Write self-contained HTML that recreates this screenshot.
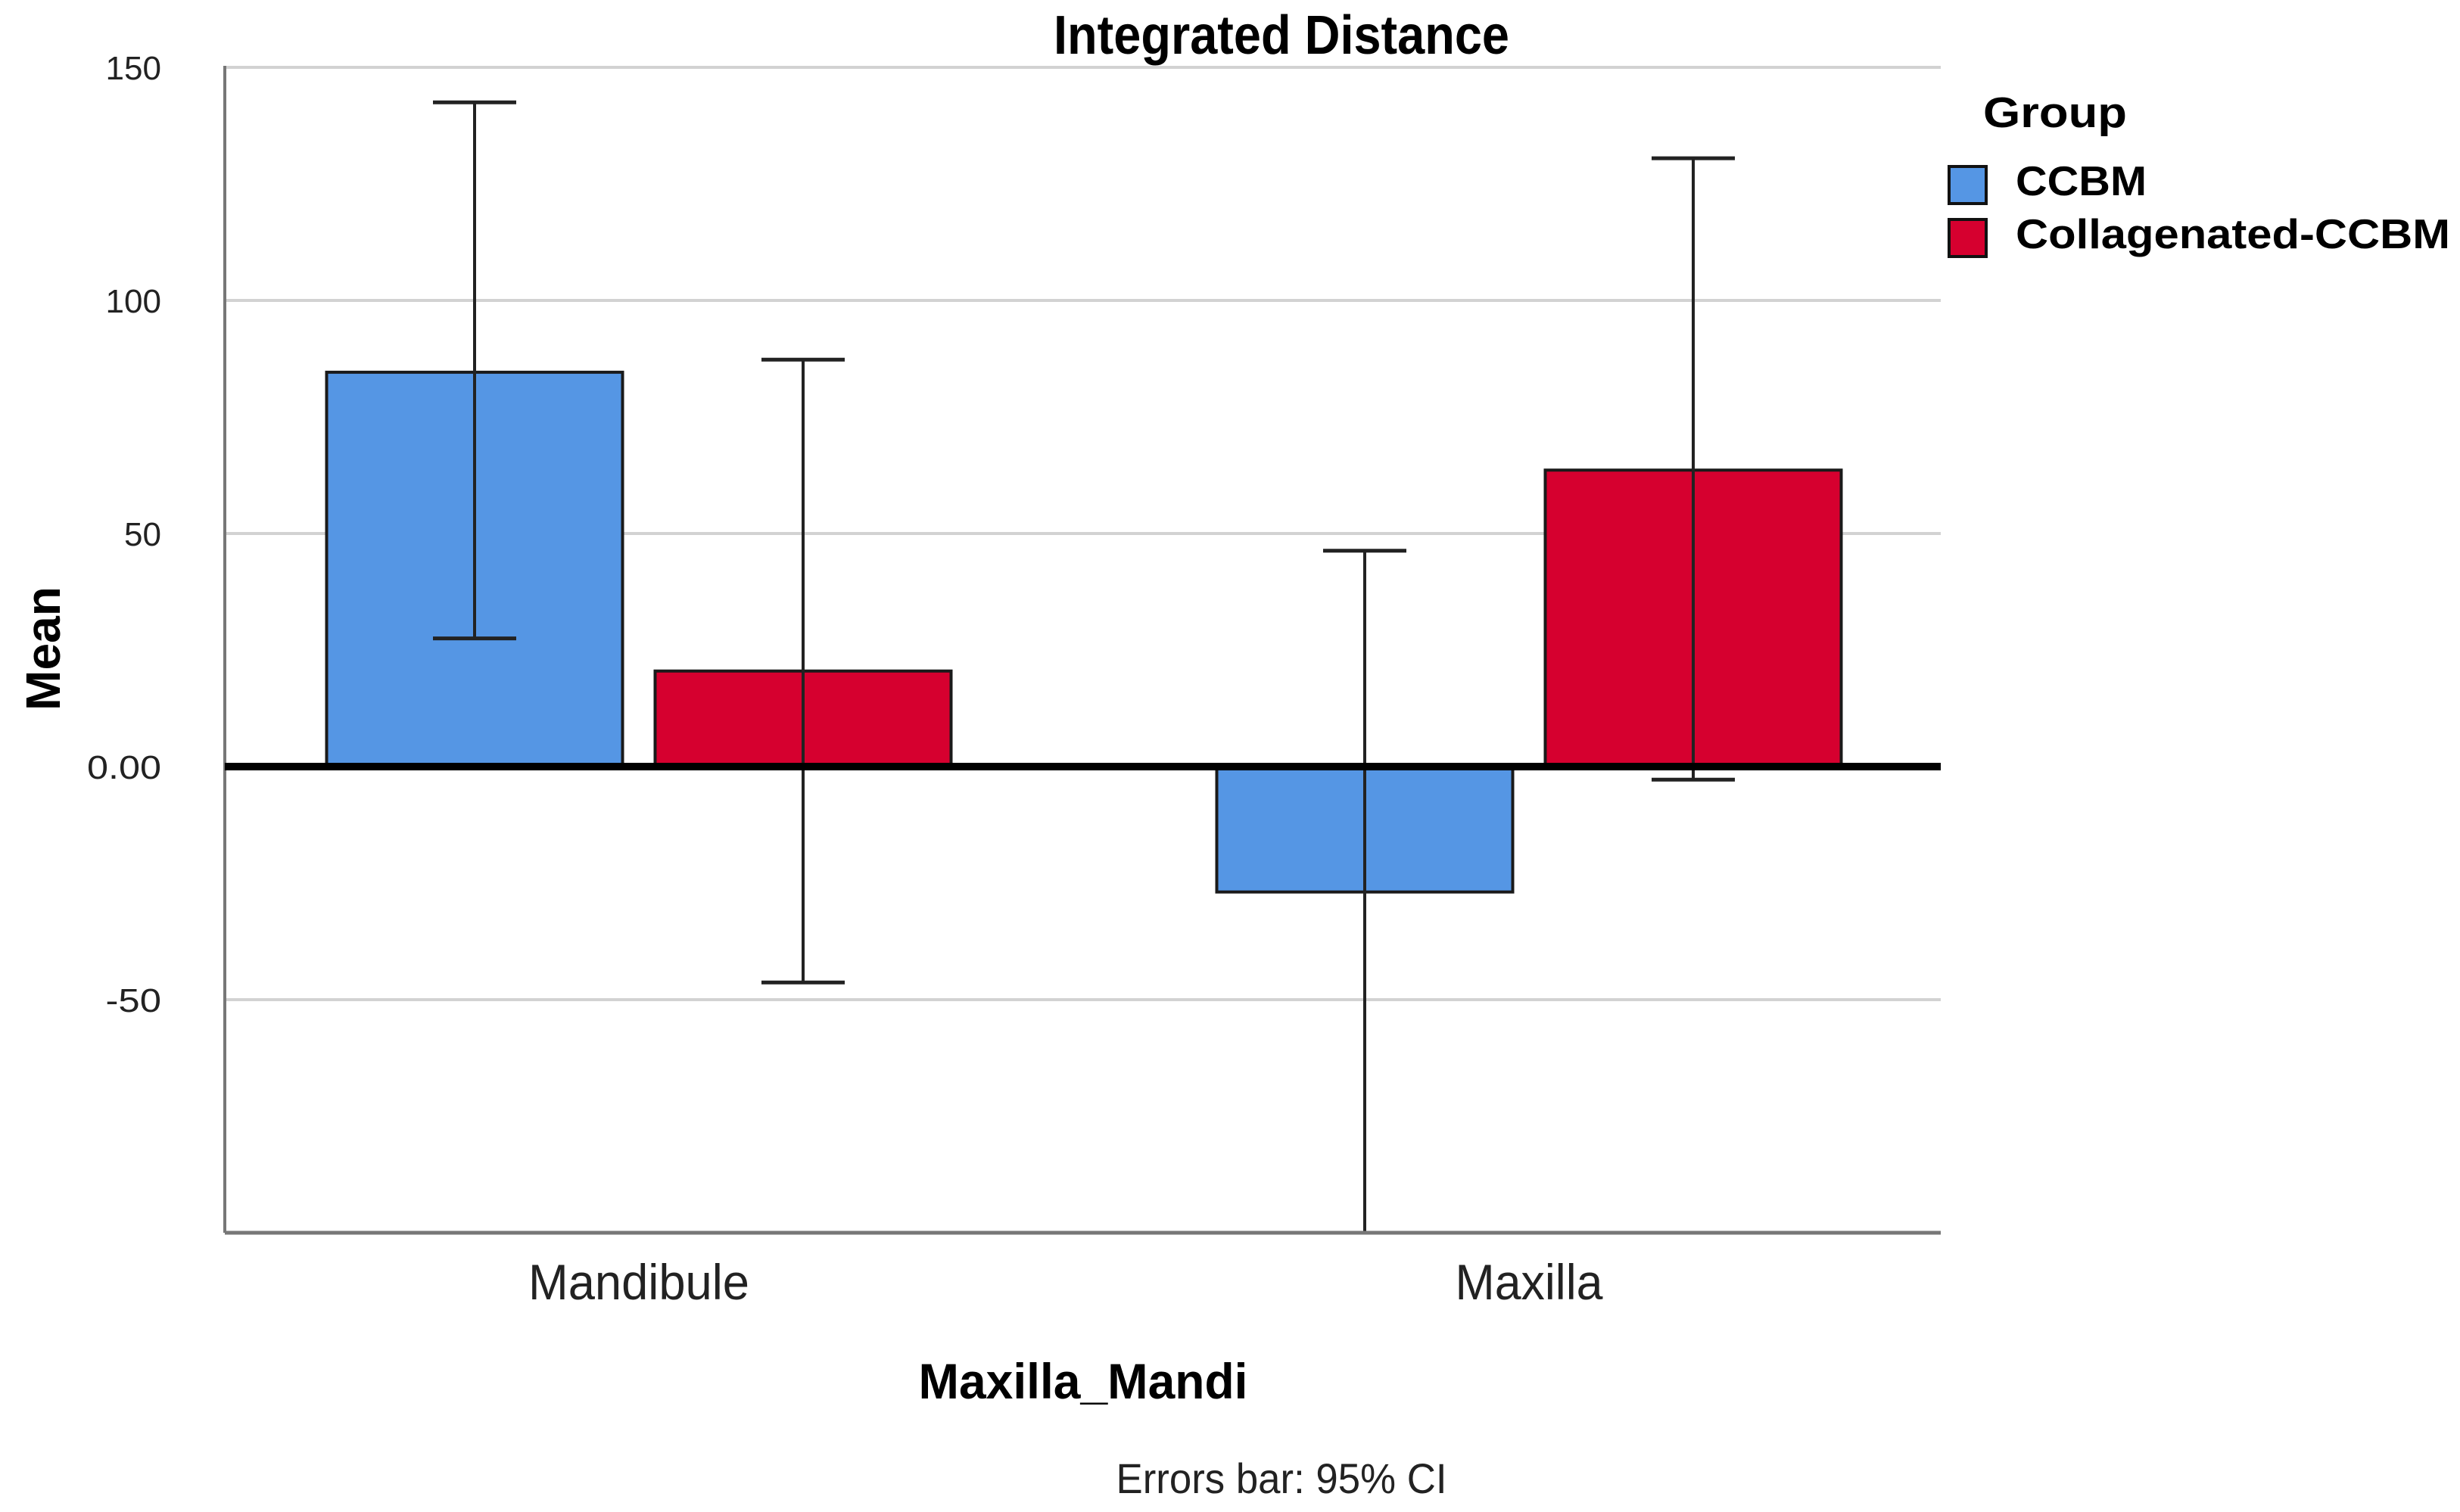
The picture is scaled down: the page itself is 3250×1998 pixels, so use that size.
<!DOCTYPE html>
<html><head><meta charset="utf-8"><title>Integrated Distance</title>
<style>html,body{margin:0;padding:0;background:#fff;}svg{display:block;}</style></head>
<body>
<svg id="chart" width="3250" height="1998" viewBox="0 0 3250 1998" xmlns="http://www.w3.org/2000/svg" font-family="'Liberation Sans', Arial, sans-serif">
<rect width="3250" height="1998" fill="#fff"/>
<text x="1693" y="71" text-anchor="middle" font-size="72" font-weight="bold" textLength="602" lengthAdjust="spacingAndGlyphs">Integrated Distance</text>
<g id="grid"></g>
<g id="bars"></g>
<g id="errs"></g>
<g id="axes"></g>
<text transform="translate(79,857) rotate(-90)" text-anchor="middle" font-size="64" font-weight="bold" textLength="164" lengthAdjust="spacingAndGlyphs">Mean</text>
<text x="1431" y="1848" text-anchor="middle" font-size="66" font-weight="bold" textLength="435" lengthAdjust="spacingAndGlyphs">Maxilla_Mandi</text>
<text x="1693" y="1973" text-anchor="middle" font-size="56" fill="#222" textLength="437" lengthAdjust="spacingAndGlyphs">Errors bar: 95% CI</text>
<g>
<text x="2620" y="168" font-size="57" font-weight="bold" textLength="190" lengthAdjust="spacingAndGlyphs">Group</text>
<g>
<rect x="2575" y="220" width="49" height="49" fill="#5596e4" stroke="#111" stroke-width="4"/>
<text x="2663" y="258" font-size="55" font-weight="bold" textLength="173" lengthAdjust="spacingAndGlyphs">CCBM</text>
</g>
<g>
<rect x="2575" y="290" width="49" height="49" fill="#d6002f" stroke="#111" stroke-width="4"/>
<text x="2663" y="328" font-size="55" font-weight="bold" textLength="574" lengthAdjust="spacingAndGlyphs">Collagenated-CCBM</text>
</g>
</g>
</svg>
<script>
const categories = ["Mandibule", "Maxilla"];
const seriesNames = ["CCBM", "Collagenated-CCBM"];
const ccbmMeans = [84.6, -26.9];
const collagenMeans = [20.5, 63.6];
const ccbmLow = [27.5, -100];
const ccbmHigh = [142.5, 46.3];
const collagenLow = [-46.3, -2.8];
const collagenHigh = [87.3, 130.5];
const yTicks = [150, 100, 50, 0, -50];
const yTickLabels = ["150", "100", "50", "0.00", "-50"];

const NS = "http://www.w3.org/2000/svg";
const yMin = -100, yMax = 150, yTop = 89, yBot = 1629;
function y(v){ return yBot - (v - yMin) / (yMax - yMin) * (yBot - yTop); }
const plotL = 297, plotR = 2564, bandStart = 256, band = 1176, barW = 391, barGap = 43;
function catCenter(i){ return bandStart + (i + 0.5) * band; }
function barX(i, s){ return catCenter(i) - barGap/2 - barW + s * (barW + barGap); }
function mk(tag, attrs, parent){ const e = document.createElementNS(NS, tag); for (const k in attrs) e.setAttribute(k, attrs[k]); parent.appendChild(e); return e; }

const grid = document.getElementById("grid");
const axes = document.getElementById("axes");
yTicks.forEach((t, i) => {
  if (t !== 0) {
    const g = mk("line", {x1: plotL, x2: plotR, y1: y(t), y2: y(t), stroke: "#d2d2d2", "stroke-width": 4}, grid);
    
    
  }
  const lbl = mk("text", {x: 213, y: y(t) + 16, "text-anchor": "end", "font-size": 44, fill: "#222", textLength: yTickLabels[i].length * 24.5, lengthAdjust: "spacingAndGlyphs"}, axes);
  lbl.textContent = yTickLabels[i];
  
  
});

const bars = document.getElementById("bars");
const errs = document.getElementById("errs");
const means = [ccbmMeans, collagenMeans];
const lows = [ccbmLow, collagenLow];
const highs = [ccbmHigh, collagenHigh];
const colors = ["#5596e4", "#d6002f"];
categories.forEach((c, i) => {
  for (let s = 0; s < 2; s++) {
    const v = means[s][i];
    const x = barX(i, s);
    const r = mk("rect", {x: x, y: Math.min(y(v), y(0)), width: barW, height: Math.abs(y(v) - y(0)), fill: colors[s], stroke: "#1a1a1a", "stroke-width": 4}, bars);
    
    
    const cx = x + barW / 2;
    const g = mk("g", {stroke: "#222", "stroke-width": 4}, errs);
    
    
    mk("line", {x1: cx, x2: cx, y1: y(highs[s][i]), y2: y(lows[s][i])}, g);
    mk("line", {x1: cx - 55, x2: cx + 55, y1: y(highs[s][i]), y2: y(highs[s][i]), "stroke-width": 5}, g);
    mk("line", {x1: cx - 55, x2: cx + 55, y1: y(lows[s][i]), y2: y(lows[s][i]), "stroke-width": 5}, g);
  }
  const cl = mk("text", {x: catCenter(i) + (i === 0 ? 0 : 0), y: 1717, "text-anchor": "middle", "font-size": 66, fill: "#222", textLength: i === 0 ? 292 : 195, lengthAdjust: "spacingAndGlyphs"}, axes);
  cl.textContent = c;
  
  
});

const ya = mk("line", {x1: plotL, x2: plotL, y1: yTop - 2, y2: yBot, stroke: "#777", "stroke-width": 4}, axes);


const xa = mk("line", {x1: plotL, x2: plotR, y1: yBot, y2: yBot, stroke: "#777", "stroke-width": 5}, axes);


const zl = mk("line", {x1: plotL, x2: plotR, y1: y(0), y2: y(0), stroke: "#000", "stroke-width": 10}, axes);


</script>
</body></html>
